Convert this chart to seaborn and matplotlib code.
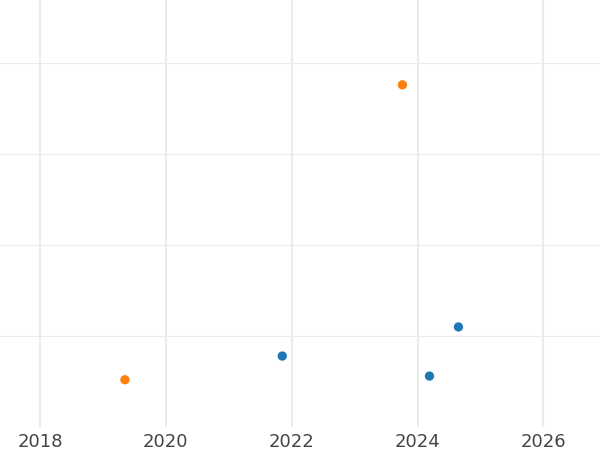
import matplotlib
matplotlib.use("Agg")
import pandas as pd
import seaborn as sns
import matplotlib.pyplot as plt

# values
years = [2019.35, 2021.85, 2023.76, 2024.19, 2024.65]
values = [0.52, 0.78, 3.76, 0.56, 1.10]
groups = ["b", "a", "b", "a", "a"]

df = pd.DataFrame({"year": years, "value": values, "group": groups})

sns.set_style("white")
plt.rcParams['font.family'] = ['DejaVu Sans']

fig = plt.figure(figsize=(6, 4.5), dpi=100)
ax = fig.add_axes([0, 0.051, 1, 0.949])

sns.scatterplot(data=df, x="year", y="value", hue="group",
                palette={"a": "#1f77b4", "b": "#ff7f0e"},
                s=45, linewidth=0, legend=False, ax=ax)

ax.set_xlim(2017.364, 2026.9)
ax.set_ylim(0, 4.692)
ax.set_xticks([2018, 2020, 2022, 2024, 2026])
ax.set_yticks([1, 2, 3, 4])
ax.set_yticklabels([])
ax.xaxis.grid(True, color="#ebebeb", linewidth=1.5)
ax.yaxis.grid(True, color="#ebebeb", linewidth=0.75)
ax.set_axisbelow(True)
for sp in ax.spines.values():
    sp.set_visible(False)
ax.tick_params(axis="x", length=0, pad=4, labelsize=13, labelcolor="#444444")
ax.tick_params(axis="y", length=0)
ax.set_xlabel("")
ax.set_ylabel("")

fig.savefig("out.png", dpi=100)
